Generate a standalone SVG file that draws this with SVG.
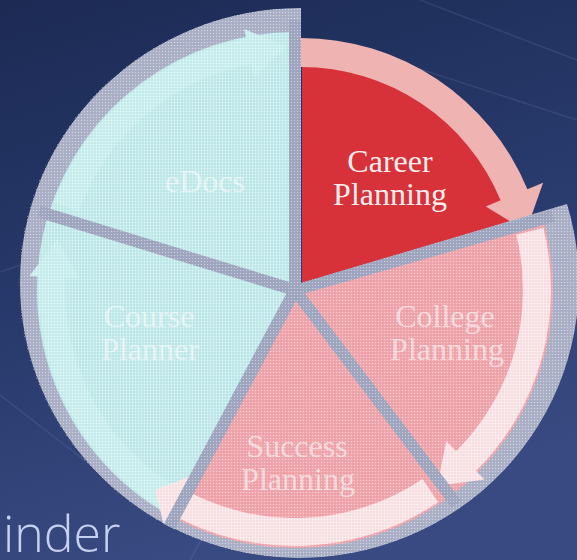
<svg xmlns="http://www.w3.org/2000/svg" width="577" height="560" viewBox="0 0 577 560">
<defs>
  <linearGradient id="bg" x1="0" y1="0" x2="0.3" y2="1">
    <stop offset="0" stop-color="#1c2a54"/>
    <stop offset="0.5" stop-color="#27396a"/>
    <stop offset="1" stop-color="#384a81"/>
  </linearGradient>
  <clipPath id="ov"><path d="M301,283 L301,8 A280,275 0 1,0 567,204 Z"/></clipPath>
  <pattern id="dots" width="3" height="3" patternUnits="userSpaceOnUse">
    <rect x="0" y="0" width="1" height="1" fill="#ffffff" opacity="0.45"/>
    <rect x="1.5" y="1.5" width="1" height="1" fill="#5d6790" opacity="0.25"/>
  </pattern>
</defs>
<style>
  .lbl{font-family:"Liberation Serif","Times New Roman",serif;font-size:32px;text-anchor:middle}
  .fade{fill:#ffffff;fill-opacity:0.6}
  .cy{fill:#c6eded}
  .pk{fill:#f3a6ac}
  .wa{fill:#fde6e8}
  .ca{fill:#cdf1f0}
  .div{stroke:#a1a7c0;stroke-width:12;fill:none}
  .streak{stroke:#9fb2e0;stroke-opacity:0.13;stroke-width:1.5;fill:none}
</style>

<rect x="0" y="0" width="577" height="560" fill="url(#bg)"/>
<g id="streaks">
  <path class="streak" d="M0,272 L70,248"/>
  <path class="streak" d="M330,40 L577,120"/>
  <path class="streak" d="M420,0 L577,60"/>
  <path class="streak" d="M0,395 L110,480"/>
  <path class="streak" d="M190,560 L240,470"/>
</g>

<text x="3" y="552" style="font-family:'Open Sans',Lato,'Liberation Sans',sans-serif;font-size:50px;font-weight:300;fill:#c6d0ef">inder</text>

<g id="career">
  <path d="M302,283 L302,58 A225,225 0 0,1 517,221 Z" fill="#d7313a"/>
  <text class="lbl" x="390" y="172" fill="#fbeeee">Career</text>
  <text class="lbl" x="390" y="205" fill="#fbeeee">Planning</text>
</g>

<g id="connectors">
  <path id="arrow-career" d="M301,38 A245,245 0 0,1 527.4,189.2 L543.1,182.7 L526.1,231 L485.8,206.5 L500.6,200.3 A216,216 0 0,0 301,67 Z" fill="#efb4b2"/>
</g>

<g id="overlay" clip-path="url(#ov)">
  <ellipse cx="300" cy="283" rx="280" ry="275" fill="#adb2c8"/>
  <g id="college"><path class="pk" d="M295,290 L543,218.9 A258,258 0 0,1 450.3,496 Z"/></g>
  <g id="success"><path class="pk" d="M295,290 L450.3,496 A258,258 0 0,1 173.9,517.8 Z"/></g>
  <g id="course"><path class="cy" d="M295,290 L173.9,517.8 A258,258 0 0,1 48.3,214.6 Z"/></g>
  <g id="edocs"><path class="cy" d="M295,290 L48.3,214.6 A258,258 0 0,1 295,32 Z"/></g>
  <g id="overlay-connectors">
    <path class="ca" d="M54.4,202.4 A256,256 0 0,1 246.2,38.7 L244.2,28.9 L286.5,47.1 L253.8,78 L251.1,64.2 A230,230 0 0,0 78.9,211.3 Z"/>
    <path class="ca" d="M159.3,507.1 A256,256 0 0,1 39.4,276.6 L29.4,276.1 L57.3,239.5 L79.3,278.7 L65.3,278 A230,230 0 0,0 173.1,485 Z"/>
    <path class="wa" d="M543.4,228.1 A256,256 0 0,1 476,471 L484.5,479.5 L437.2,485.8 L446.3,441.3 L456.2,451.2 A228,228 0 0,0 516.2,234.8 Z"/>
    <path class="wa" d="M438.2,502.2 A256,256 0 0,1 170.9,513.9 L164.1,526.1 L155,490 L192.2,475.4 L184.5,489.4 A228,228 0 0,0 422.5,479 Z"/>
    <path class="div" d="M295,290 L295,20 M295,290 L38.8,211.6 M295,290 L168.7,527.6 M295,290 L456.3,504 M295,290 L553,216"/>
  </g>
  <g id="overlay-labels">
    <text class="lbl fade" x="205" y="192">eDocs</text>
    <text class="lbl fade" x="149" y="327">Course</text>
    <text class="lbl fade" x="150" y="360">Planner</text>
    <text class="lbl fade" x="445" y="327">College</text>
    <text class="lbl fade" x="447" y="360">Planning</text>
    <text class="lbl fade" x="297" y="457">Success</text>
    <text class="lbl fade" x="298" y="490">Planning</text>
  </g>
  <rect x="0" y="0" width="577" height="560" fill="url(#dots)"/>
</g>
</svg>
